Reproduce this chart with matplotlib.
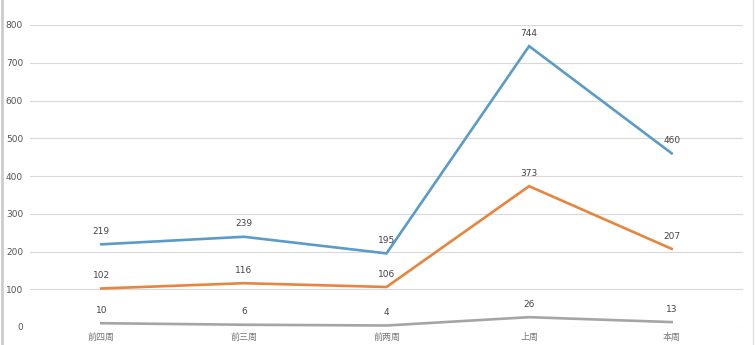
import matplotlib
matplotlib.use("Agg")
import matplotlib.pyplot as plt

categories = ["前四周", "前三周", "前两周", "上周", "本周"]
series_blue = [219, 239, 195, 744, 460]
series_orange = [102, 116, 106, 373, 207]
series_gray = [10, 6, 4, 26, 13]
yticks = [0, 100, 200, 300, 400, 500, 600, 700, 800]

plt.rcParams['font.family'] = ['Noto Sans CJK SC', 'DejaVu Sans']

fig = plt.figure(figsize=(7.55, 3.45), dpi=100)
ax = fig.add_axes([30/755, 18/345, 713/755, 302/345])

x = list(range(len(categories)))
for vals, col in [(series_blue, "#5B9BC9"), (series_orange, "#E8843E"), (series_gray, "#A5A5A5")]:
    ax.plot(x, vals, color=col, lw=1.9, solid_joinstyle='miter', zorder=3)
    for xi, v in zip(x, vals):
        ax.annotate(str(v), (xi, v), xytext=(0, 6), textcoords='offset points',
                    ha='center', va='bottom', fontsize=6.5, color='#444444',
                    family=['DejaVu Sans'])

ax.set_ylim(0, 800)
ax.set_xlim(-0.5, len(categories) - 0.5)
ax.set_yticks(yticks)
ax.set_yticklabels([str(t) for t in yticks], fontsize=6.5, color='#555555', family=['DejaVu Sans'])
ax.set_xticks(x)
ax.set_xticklabels(categories, fontsize=6.5, color='#777777')
ax.grid(axis='y', color='#D9D9D9', lw=0.8, zorder=0)
for s in ax.spines.values():
    s.set_visible(False)
ax.tick_params(axis='both', length=0)
ax.tick_params(axis='y', pad=5)
ax.tick_params(axis='x', pad=4)

# thin borders at left and right edges
fig.add_artist(plt.Line2D([0.002, 0.002], [0, 1], transform=fig.transFigure, color='#CCCCCC', lw=2))
fig.add_artist(plt.Line2D([753/755, 753/755], [0, 1], transform=fig.transFigure, color='#E0E0E0', lw=1))

fig.savefig("out.png", dpi=100)
